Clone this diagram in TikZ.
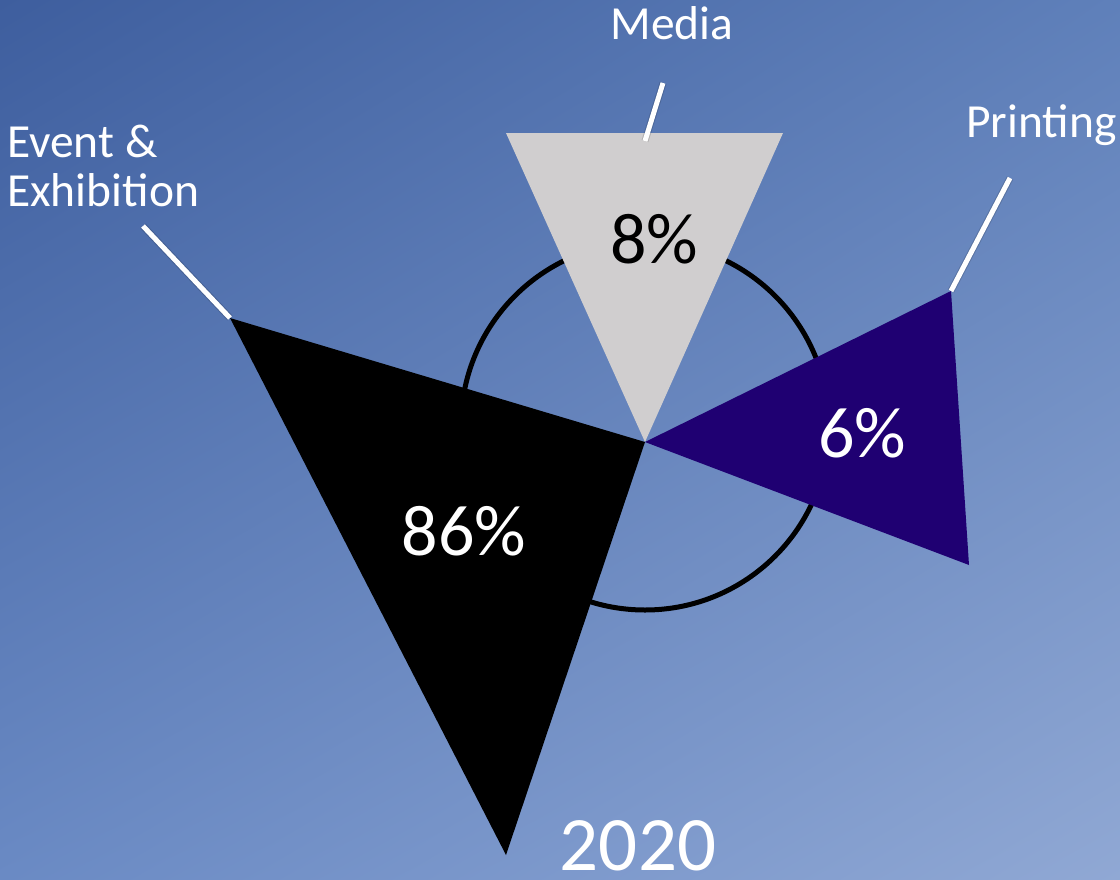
\documentclass[tikz,border=0pt]{standalone}
\usepackage{fontspec}
\setmainfont{Carlito}
\usetikzlibrary{shadings}
\definecolor{bgTL}{HTML}{3E5E9E}
\definecolor{bgTR}{HTML}{5F80BA}
\definecolor{bgBL}{HTML}{6A8AC4}
\definecolor{bgBR}{HTML}{90A8D4}
\definecolor{wedgegray}{HTML}{D0CECF}
\definecolor{wedgepurple}{HTML}{1F0072}
\begin{document}
\begin{tikzpicture}[x=1pt,y=-1pt,
  lbl/.style={text=white, font=\fontsize{47.5}{52}\selectfont, inner sep=0pt},
  pct/.style={font=\fontsize{72}{80}\selectfont, inner sep=0pt, anchor=base},
  leader/.style={draw=white, line width=5pt},
  leadershadow/.style={draw=black, draw opacity=0.15, line width=7pt, shift={(1.5pt,-2.5pt)}},
  ringstyle/.style={circle, draw=black, line width=5pt, minimum size=368pt, inner sep=0pt}]
\useasboundingbox (0,0) rectangle (1120,879);
\shade[upper left=bgTL, upper right=bgTR, lower left=bgBL, lower right=bgBR] (0,0) rectangle (1120,879);
% ring
\node[ringstyle] (ring) at (645,426) {};
% wedge vertices
\coordinate (c) at (645,442);
\coordinate (g1) at (506,133);
\coordinate (g2) at (783,133);
\coordinate (b1) at (230,318);
\coordinate (b2) at (506,855);
\coordinate (p1) at (951,291);
\coordinate (p2) at (969,565);
% wedges
\fill[wedgegray] (g1) -- (g2) -- (c) -- cycle;
\fill[black] (b1) -- (c) -- (b2) -- cycle;
\fill[wedgepurple] (c) -- (p1) -- (p2) -- cycle;
% leader lines
\coordinate (m0) at (663,83);
\coordinate (m1) at (645,141);
\coordinate (r0) at (1010,178);
\coordinate (e0) at (143,226);
\draw[leadershadow] (m0) -- (m1);
\draw[leadershadow] (r0) -- (p1);
\draw[leadershadow] (e0) -- (b1);
\draw[leader] (m0) -- (m1);
\draw[leader] (r0) -- (p1);
\draw[leader] (e0) -- (b1);
% labels
\node[lbl, anchor=base] (media) at (672,39) {Media};
\node[lbl, anchor=base west] (printing) at (966,137) {Printing};
\node[lbl, anchor=base west] (event) at (7,157) {Event \&};
\node[lbl, anchor=base west] (exhib) at (7,206) {Exhibition};
% percentages
\node[pct, text=black] (pgray) at (654,263) {8\%};
\node[pct, text=white] (ppurple) at (862,457) {6\%};
\node[pct, text=white] (pblack) at (464,555) {86\%};
% year
\node[font=\fontsize{77}{80}\selectfont, text=white, anchor=base, inner sep=0pt] (year) at (638,870) {2020};
\end{tikzpicture}
\end{document}
